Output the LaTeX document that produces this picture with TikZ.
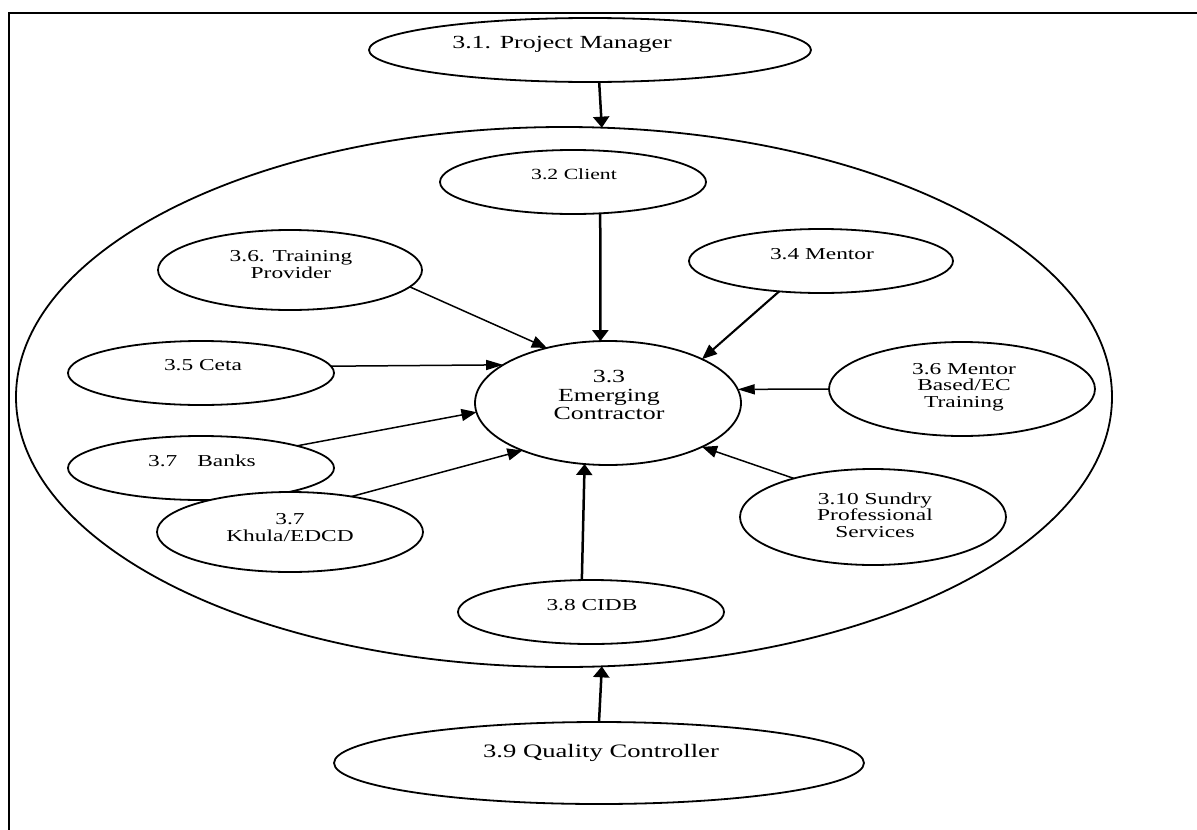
\documentclass[tikz,border=0pt]{standalone}
\usepackage{fontspec}
\setmainfont{Liberation Serif}[FakeStretch=1.4]
\usetikzlibrary{shapes.geometric,arrows.meta}
\begin{document}
\begin{tikzpicture}[x=1pt,y=-1pt,
  oval/.style={draw, fill=white, ellipse, line width=1.8pt, inner sep=0pt, outer sep=0pt},
  lbl/.style={align=center, inner sep=0pt, font=\fontsize{16.7}{17}\selectfont},
  thinarr/.style={line width=1.5pt},
  thickarr/.style={line width=2.5pt},
  vhead/.style={-{Triangle[length=11pt,width=16pt]}},
  hhead/.style={-{Triangle[length=17pt,width=10pt]}},
  dhead/.style={-{Triangle[length=15pt,width=12pt]}}
]
\useasboundingbox (0,0) rectangle (1197,830);
% frame
\draw[line width=2pt] (8.5,830) coordinate (fbl) -- (8.5,13) coordinate (ftl) -- (1197,13) coordinate (ftr);

% ellipses
\node[oval, minimum width=442pt, minimum height=64pt] (pm) at (590,50) {};
\node[oval, minimum width=1096pt, minimum height=540pt] (big) at (564,397) {};
\node[oval, minimum width=266pt, minimum height=64pt] (client) at (573,182) {};
\node[oval, minimum width=264pt, minimum height=80pt] (tp) at (290,270) {};
\node[oval, minimum width=264pt, minimum height=64pt] (mentor) at (821,261) {};
\node[oval, minimum width=266pt, minimum height=64pt] (ceta) at (201,373) {};
\node[oval, minimum width=266pt, minimum height=124pt] (ec) at (608,403) {};
\node[oval, minimum width=266pt, minimum height=94pt] (mb) at (962,389) {};
\node[oval, minimum width=266pt, minimum height=64pt] (banks) at (201,468) {};
\node[oval, minimum width=266pt, minimum height=80pt] (khula) at (290,532) {};
\node[oval, minimum width=266pt, minimum height=96pt] (sundry) at (873,517) {};
\node[oval, minimum width=266pt, minimum height=64pt] (cidb) at (591,612) {};
\node[oval, minimum width=530pt, minimum height=82pt] (qc) at (599,763) {};

% labels
\node[lbl, font=\fontsize{18.5}{19}\selectfont] (tpm) at (562,44) {3.1. Project Manager};
\node[lbl, font=\fontsize{15.5}{17}\selectfont] (tclient) at (574,174) {3.2 Client};
\node[lbl] (ttp) at (291,265) {3.6. Training\\Provider};
\node[lbl] (tmentor) at (822,254) {3.4 Mentor};
\node[lbl] (tceta) at (203,365) {3.5 Ceta};
\node[lbl, font=\fontsize{18.5}{18.5}\selectfont] (tec) at (609,395) {3.3\\Emerging\\Contractor};
\node[lbl, font=\fontsize{16.7}{16.5}\selectfont] (tmb) at (964,387) {3.6 Mentor\\Based/EC\\Training};
\node[lbl] (tbanks) at (202,461) {3.7\hspace{20pt}Banks};
\node[lbl] (tkhula) at (290,528) {3.7\\Khula/EDCD};
\node[lbl, font=\fontsize{16.7}{16.5}\selectfont] (tsundry) at (875,515) {3.10 Sundry\\Professional\\Services};
\node[lbl] (tcidb) at (592,605) {3.8 CIDB};
\node[lbl, font=\fontsize{19}{19}\selectfont] (tqc) at (601,753) {3.9 Quality Controller};

% connectors
\draw[thickarr, vhead] (pm.-74.3) -- (big.82.6);
\draw[thickarr, vhead] (client.-49.2) -- (ec.97.4);
\draw[thinarr, dhead] (tp.-8) -- (ec.138.9);
\draw[line width=2.1pt, dhead] (mentor.216) -- (ec.25.6);
\draw[thinarr, hhead] (ceta.3.4) -- (ec.160.6);
\draw[thinarr, hhead] (mb.west) -- (ec.6);
\draw[thinarr, dhead] (banks.13.9) -- (ec.-176.1);
\draw[thinarr, dhead] (khula.30.8) -- (ec.209.2);
\draw[thinarr, dhead] (sundry.154.6) -- (ec.-25.2);
\draw[thickarr, vhead] (cidb.106.2) -- (ec.-111.8);
\draw[thickarr, vhead] (qc.north) -- (big.-82.4);
\end{tikzpicture}
\end{document}
